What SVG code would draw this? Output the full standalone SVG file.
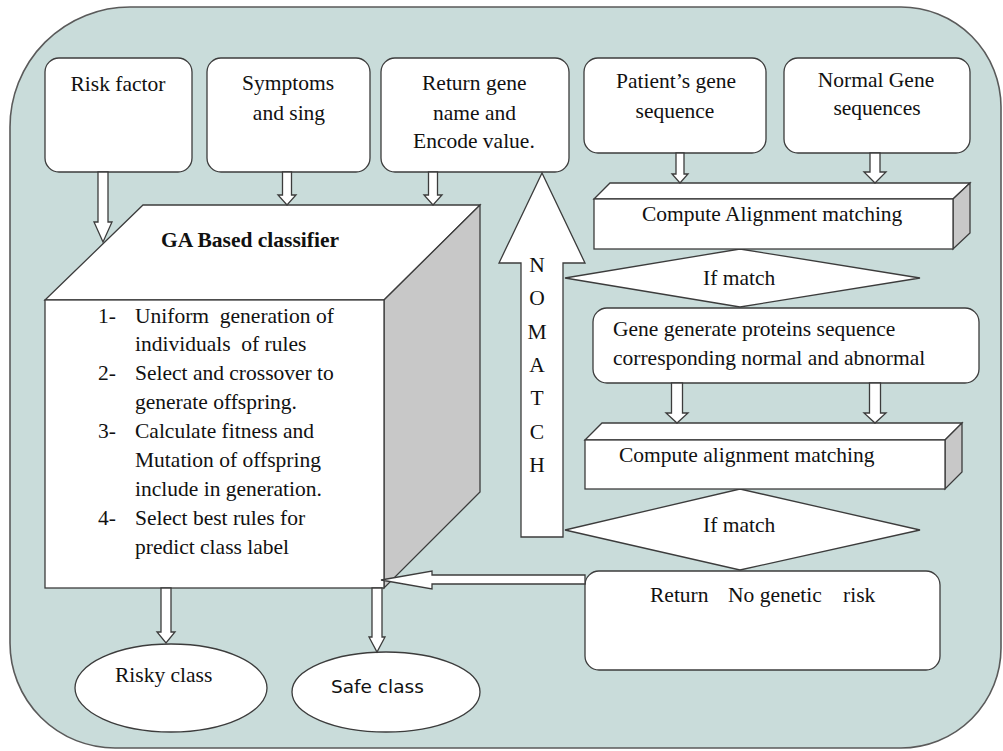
<svg xmlns="http://www.w3.org/2000/svg" width="1003" height="751" viewBox="0 0 1003 751">
<style>
.bg{fill:#c9dcda;stroke:#5a5a5a;stroke-width:1.6}
.box{fill:#fff;stroke:#3c3c3c;stroke-width:1.3}
.side{fill:#c8c8c8;stroke:#3c3c3c;stroke-width:1.3}
.arr{fill:#fff;stroke:#3c3c3c;stroke-width:1.3;stroke-linejoin:miter}
.t{font-family:"Liberation Serif","Times New Roman",serif;font-size:21.5px;fill:#111}
.c{text-anchor:middle}
.b{font-weight:bold}
.s{font-family:"DejaVu Sans","Liberation Sans",sans-serif;font-size:18.5px;fill:#111}
</style>
<path class="bg" d="M130 7 H901 A100 100 0 0 1 1001 107 V648 A100 100 0 0 1 901 748 H115 A105 105 0 0 1 10 643 V127 A120 120 0 0 1 130 7 Z"/>

<g id="risk-factor">
<rect class="box" x="45" y="58" width="147" height="114" rx="14"/>
<text class="t c" x="118" y="91">Risk factor</text>
</g>
<g id="symptoms">
<rect class="box" x="207" y="58" width="163" height="114" rx="14"/>
<text class="t c" x="288" y="90">Symptoms</text>
<text class="t c" x="289" y="120">and sing</text>
</g>
<g id="return-gene">
<rect class="box" x="381" y="58" width="188" height="114" rx="14"/>
<text class="t" x="422" y="90">Return gene</text>
<text class="t" x="433" y="120">name and</text>
<text class="t" x="413" y="148">Encode value.</text>
</g>
<g id="patient-gene">
<rect class="box" x="584" y="58" width="182" height="95" rx="14"/>
<text class="t c" x="676" y="88">Patient’s gene</text>
<text class="t c" x="675" y="118">sequence</text>
</g>
<g id="normal-gene">
<rect class="box" x="784" y="58" width="186" height="95" rx="14"/>
<text class="t c" x="876" y="87">Normal Gene</text>
<text class="t c" x="877" y="115">sequences</text>
</g>

<g id="ga-classifier">
<polygon class="box" points="45,300 143,205 480,205 384,300"/>
<polygon class="side" points="384,300 480,205 480,492 384,588"/>
<rect class="box" x="45" y="300" width="339" height="288"/>
<text class="t b c" x="250" y="247">GA Based classifier</text>
<text class="t" x="98" y="323">1-</text>
<text class="t" x="135" y="323" xml:space="preserve">Uniform  generation of</text>
<text class="t" x="135" y="351" xml:space="preserve">individuals  of rules</text>
<text class="t" x="98" y="380">2-</text>
<text class="t" x="135" y="380">Select and crossover to</text>
<text class="t" x="135" y="409">generate offspring.</text>
<text class="t" x="98" y="438">3-</text>
<text class="t" x="135" y="438">Calculate fitness and</text>
<text class="t" x="135" y="467">Mutation of offspring</text>
<text class="t" x="135" y="496">include in generation.</text>
<text class="t" x="98" y="525">4-</text>
<text class="t" x="135" y="525">Select best rules for</text>
<text class="t" x="135" y="554">predict class label</text>
</g>

<g id="if-match-1">
<polygon class="box" points="565,278 740,249 920,278 740,307"/>
<text class="t" x="703" y="285">If match</text>
</g>
<g id="compute-alignment-1">
<polygon class="box" points="594,199 610,183 970,183 953,199"/>
<polygon class="side" points="953,199 970,183 970,233 953,249"/>
<rect class="box" x="594" y="199" width="359" height="50"/>
<text class="t" x="642" y="221">Compute Alignment matching</text>
</g>
<g id="gene-proteins">
<rect class="box" x="593" y="308" width="386" height="75" rx="14"/>
<text class="t" x="613" y="336">Gene generate proteins sequence</text>
<text class="t" x="613" y="365">corresponding normal and abnormal</text>
</g>
<g id="if-match-2">
<polygon class="box" points="565,530 740,489 920,530 740,570"/>
<text class="t" x="703" y="532">If match</text>
</g>
<g id="compute-alignment-2">
<polygon class="box" points="585,440 602,423 962,423 945,440"/>
<polygon class="side" points="945,440 962,423 962,472 945,489"/>
<rect class="box" x="585" y="440" width="360" height="49"/>
<text class="t" x="619" y="462">Compute alignment matching</text>
</g>
<g id="no-genetic-risk">
<rect class="box" x="585" y="571" width="355" height="99" rx="14"/>
<text class="t" y="602"><tspan x="650">Return</tspan><tspan x="728">No genetic</tspan><tspan x="843">risk</tspan></text>
</g>
<g id="risky-class">
<ellipse class="box" cx="171" cy="688" rx="96" ry="44"/>
<text class="t" x="115" y="682">Risky class</text>
</g>
<g id="safe-class">
<ellipse class="box" cx="386" cy="692" rx="94" ry="40"/>
<text class="s" x="331" y="693">Safe class</text>
</g>

<g id="connectors">
<polygon class="arr" points="98,172 108,172 108,222 112,222 103,242 94,222 98,222"/>
<polygon class="arr" points="282.5,172 291.5,172 291.5,195 296,195 287,205 278,195 282.5,195"/>
<polygon class="arr" points="428.5,172 437.5,172 437.5,195 442,195 433,205 424,195 428.5,195"/>
<polygon class="arr" points="676,153 684,153 684,174 688,174 680,183 672,174 676,174"/>
<polygon class="arr" points="870,153 880,153 880,172 886,172 875,183 864,172 870,172"/>
<polygon class="arr" points="671.5,383 682.5,383 682.5,413 688,413 677,423 666,413 671.5,413"/>
<polygon class="arr" points="869.5,383 880.5,383 880.5,413 886,413 875,423 864,413 869.5,413"/>
<polygon class="arr" points="161,588 171,588 171,632 175,632 166,643 157,632 161,632"/>
<polygon class="arr" points="372,588 382,588 382,637 385,637 377,652 369,637 372,637"/>
<polygon class="arr" points="585,575 432,575 432,571 381,580 432,589 432,584 585,584"/>
<g id="no-match">
<polygon class="arr" points="521,537 563,537 563,263 585,263 542,173 499,263 521,263"/>
<text class="t c" x="537" y="272">N</text>
<text class="t c" x="537" y="305">O</text>
<text class="t c" x="537" y="339">M</text>
<text class="t c" x="537" y="372">A</text>
<text class="t c" x="537" y="405">T</text>
<text class="t c" x="537" y="439">C</text>
<text class="t c" x="537" y="472">H</text>
</g>
</g>
</svg>
